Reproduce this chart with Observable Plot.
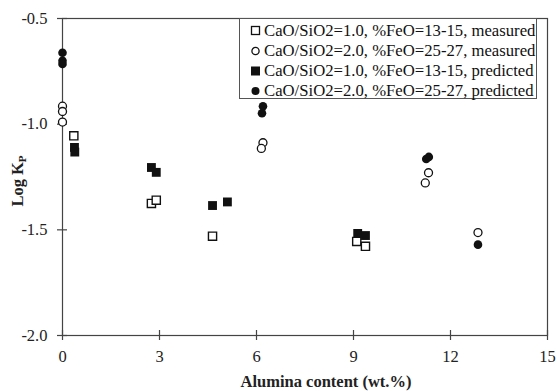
<!DOCTYPE html>
<html>
<head>
<meta charset="utf-8">
<script src="https://cdn.jsdelivr.net/npm/d3@7"></script>
<script src="https://cdn.jsdelivr.net/npm/@observablehq/plot@0.6"></script>
<style>
  html, body { margin: 0; padding: 0; background: #fff; }
  #wrap { position: relative; width: 557px; height: 391px; font-family: "Liberation Serif", "Times New Roman", serif; }
  #legend { position: absolute; left: 239px; top: 18px; width: 298px; height: 81px; box-sizing: border-box;
            border: 1px solid #555; background: #fff; font-size: 16.7px; color: #111; padding: 2px 0 0 10px; }
  #legend div { height: 20px; line-height: 20px; white-space: nowrap; }
  #legend svg { vertical-align: middle; margin-right: 2px; position: relative; top: -1px; }
</style>
</head>
<body>
<div id="wrap"></div>
<script>
// Series: CaO/SiO2=1.0, %FeO=13-15, measured (open squares)
const measLowX = [0.35, 2.75, 2.9, 4.64, 9.1, 9.37];
const measLowY = [-1.055, -1.375, -1.36, -1.53, -1.555, -1.578];
// CaO/SiO2=2.0, %FeO=25-27, measured (open circles)
const measHighX = [0, 0, 0, 6.2, 6.15, 11.32, 11.22, 12.85];
const measHighY = [-0.915, -0.94, -0.99, -1.088, -1.115, -1.23, -1.278, -1.513];
// CaO/SiO2=1.0, %FeO=13-15, predicted (filled squares)
const predLowX = [0.37, 0.38, 2.75, 2.9, 4.64, 5.1, 9.13, 9.37];
const predLowY = [-1.11, -1.132, -1.205, -1.228, -1.385, -1.368, -1.517, -1.527];
// CaO/SiO2=2.0, %FeO=25-27, predicted (filled circles)
const predHighX = [0, 0, 0, 6.2, 6.17, 11.25, 11.33, 12.85];
const predHighY = [-0.662, -0.70, -0.715, -0.915, -0.948, -1.165, -1.155, -1.57];

const seriesNames = [
  "CaO/SiO2=1.0, %FeO=13-15, measured",
  "CaO/SiO2=2.0, %FeO=25-27, measured",
  "CaO/SiO2=1.0, %FeO=13-15, predicted",
  "CaO/SiO2=2.0, %FeO=25-27, predicted"
];
const xTicks = [0, 3, 6, 9, 12, 15];
const yTicks = [-2.0, -1.5, -1.0, -0.5];

const toRows = (xs, ys) => xs.map((x, i) => ({x, y: ys[i]}));
const mLow = toRows(measLowX, measLowY);
const mHigh = toRows(measHighX, measHighY);
const pLow = toRows(predLowX, predLowY);
const pHigh = toRows(predHighX, predHighY);

const ink = "#111";
const axisInk = "#444";
const serif = "Liberation Serif, Times New Roman, serif";

const chart = Plot.plot({
  width: 557,
  height: 391,
  marginLeft: 62,
  marginRight: 10,
  marginTop: 18,
  marginBottom: 56,
  style: {fontFamily: serif, fontSize: "16px", color: "#222", background: "#fff"},
  x: {domain: [0, 15]},
  y: {domain: [-2, -0.5]},
  marks: [
    Plot.frame({stroke: axisInk, strokeWidth: 1.2}),
    // crossing tick marks
    Plot.axisX({ticks: xTicks, tickSize: 10, dy: -5, tickFormat: () => "", stroke: axisInk, strokeWidth: 1.2, label: null}),
    Plot.axisX({ticks: xTicks, tickSize: 0, tickPadding: 15, tickFormat: d => String(d), fill: "#222", fontSize: 16.5, label: null}),
    Plot.axisY({ticks: yTicks, tickSize: 10, dx: 5, tickFormat: () => "", stroke: axisInk, strokeWidth: 1.2, label: null}),
    Plot.axisY({ticks: yTicks, tickSize: 0, tickPadding: 15, tickFormat: d => d.toFixed(1), fill: "#222", fontSize: 16.5, label: null}),
    Plot.dot(mLow, {x: "x", y: "y", symbol: "square", r: 4.6, stroke: ink, strokeWidth: 1.4, fill: "#fff"}),
    Plot.dot(mHigh, {x: "x", y: "y", symbol: "circle", r: 4, stroke: ink, strokeWidth: 1.3, fill: "#fff"}),
    Plot.dot(pLow, {x: "x", y: "y", symbol: "square", r: 5, fill: ink, stroke: "none"}),
    Plot.dot(pHigh, {x: "x", y: "y", symbol: "circle", r: 4.3, fill: ink, stroke: "none"})
  ]
});

const wrap = document.getElementById("wrap");
wrap.appendChild(chart);

// Axis titles (y with subscript)
const ns = "http://www.w3.org/2000/svg";
const xl = document.createElementNS(ns, "text");
xl.setAttribute("x", 326);
xl.setAttribute("y", 387);
xl.setAttribute("text-anchor", "middle");
xl.setAttribute("font-family", serif);
xl.setAttribute("font-weight", "bold");
xl.setAttribute("font-size", "16.5");
xl.setAttribute("fill", "#222");
xl.textContent = "Alumina content (wt.%)";
chart.appendChild(xl);

const yl = document.createElementNS(ns, "text");
yl.setAttribute("transform", "translate(23,181) rotate(-90)");
yl.setAttribute("text-anchor", "middle");
yl.setAttribute("font-family", serif);
yl.setAttribute("font-weight", "bold");
yl.setAttribute("font-size", "16.5");
yl.setAttribute("fill", "#222");
const t1 = document.createElementNS(ns, "tspan");
t1.textContent = "Log K";
const t2 = document.createElementNS(ns, "tspan");
t2.setAttribute("font-size", "11");
t2.setAttribute("dy", "3");
t2.textContent = "P";
yl.appendChild(t1); yl.appendChild(t2);
chart.appendChild(yl);

// Legend
const legend = document.createElement("div");
legend.id = "legend";
const sym = [
  '<svg width="12" height="12"><rect x="1.5" y="1.5" width="8" height="8" fill="#fff" stroke="#111" stroke-width="1.3"/></svg>',
  '<svg width="12" height="12"><circle cx="5.5" cy="6" r="3.6" fill="#fff" stroke="#111" stroke-width="1.3"/></svg>',
  '<svg width="12" height="12"><rect x="1" y="1.5" width="9" height="9" fill="#111"/></svg>',
  '<svg width="12" height="12"><circle cx="5.5" cy="6" r="4" fill="#111"/></svg>'
];
seriesNames.forEach((name, i) => {
  const row = document.createElement("div");
  row.innerHTML = sym[i] + name;
  legend.appendChild(row);
});
wrap.appendChild(legend);
</script>
</body>
</html>
